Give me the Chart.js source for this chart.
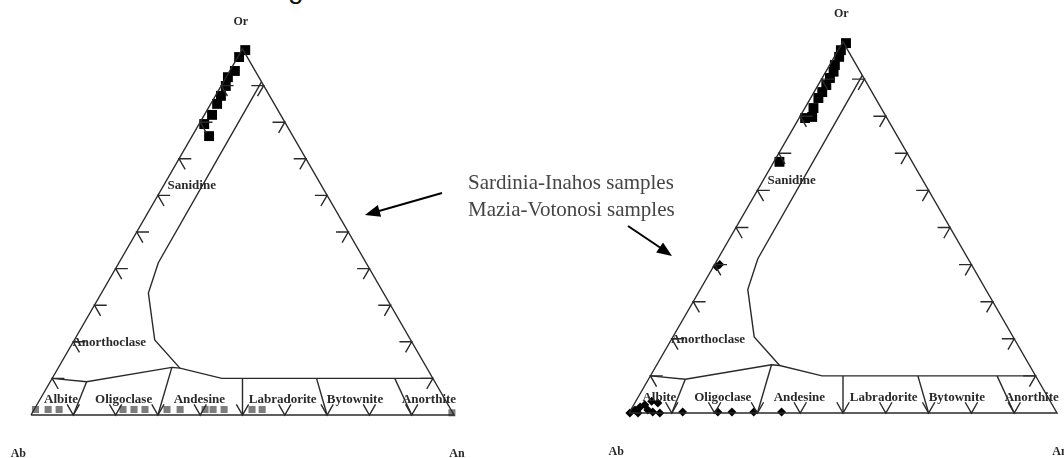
<!DOCTYPE html>
<html>
<head>
<meta charset="utf-8">
<script src="https://cdn.jsdelivr.net/npm/chart.js@4.4.1/dist/chart.umd.min.js"></script>
<style>
  html, body { margin: 0; padding: 0; background: #fff; }
  body { width: 1064px; height: 458px; position: relative; overflow: hidden; font-family: "Liberation Serif", serif; }
  canvas { position: absolute; top: 0; }
  #left { left: 0; }
  #right { left: 540px; }
  .note { position: absolute; left: 468px; font-size: 21px; line-height: 20px; color: #454545; white-space: nowrap; }
  .frag { position: absolute; left: 288px; top: -25px; font: 28px/28px "Liberation Sans", sans-serif; color: #111; }
  svg { position: absolute; left: 0; top: 0; }
</style>
</head>
<body>
<div class="frag">g</div>
<canvas id="left" width="540" height="458"></canvas>
<canvas id="right" width="524" height="458"></canvas>
<div class="note" style="top:172px">Sardinia-Inahos samples</div>
<div class="note" style="top:199px">Mazia-Votonosi samples</div>
<svg width="1064" height="458">
  <line x1="442" y1="193" x2="379" y2="211" stroke="#000" stroke-width="2"/>
  <polygon points="365,215 381.1,216.7 377.8,205.1" fill="#000"/>
  <line x1="628" y1="226" x2="660" y2="247.5" stroke="#000" stroke-width="2"/>
  <polygon points="672,256 656.2,252.6 663,242.6" fill="#000"/>
</svg>
<script>
// samples as [Or %, An %] (Ab is the rest)
const sardiniaOrRich = [[99.7,0.8],[97.8,0.3],[94,1.2],[92.3,0.4],[89.9,1.1],[87.2,1.3],[85,1.5],[82,1.8],[79.5,1.2],[76.2,4]];
const sardiniaPlag = [[1.5,0.3],[1.5,3.3],[1.5,5.9],[1.5,21],[1.5,23.6],[1.5,26.2],[1.5,31.4],[1.5,34.5],
                      [1.5,40.4],[1.5,42.3],[1.5,44.9],[1.5,51.5],[1.5,53.9],[0.6,99.2]];
const maziaOrRich = [[99.7,0.85],[97.8,0.6],[96,1.1],[93.8,1.2],[92,1.8],[90.3,1.8],[88.4,1.9],[86.5,1.9],
                     [84.9,1.8],[82.2,2],[79.8,2.9],[79.5,1.4],[67.7,1.3]];
const maziaPlag = [[39.4,0.8],[40,1.2],[0,0.2],[0.8,1],[1.6,1.8],[2.2,2.6],[0.8,4],[0.3,5.4],[0,7.2],[0,2.1],
                   [3.2,3.7],[2.7,5.4],[0.3,12.4],[0.3,20.6],[0.3,23.9],[0.3,29],[0.3,35.5]];

// field boundaries, [Or, An]
const outline = [[0,0],[100,0],[0,100],[0,0]];
const sanidineLine = [[91,9],[41.6,9.3],[33.3,11.1],[20.5,19],[12.8,28.8]];
const plagLine = [[10,0],[9.1,8.6],[13,26.8],[12.8,28.8],[10,40.1],[10,90]];
const dividers = [[[9.1,8.6],[0,10]],[[13,26.8],[0,30]],[[10,45],[0,50]],[[10,62.5],[0,70]],[[10,81],[0,90]]];
const tickValues = [10,20,30,40,50,60,70,80,90];

const fieldNames = ['Sanidine','Anorthoclase','Albite','Oligoclase','Andesine','Labradorite','Bytownite','Anorthite'];
const fieldAnchor = [[38,62.7],[18.5,19.7],[7.1,4.2],[21.9,4.2],[39.8,4.2],[59.5,4.2],[76.6,4.2],[94.1,4.2]];
const apexNames = ['Or','Ab','An'];
const apexAnchor = [[49.6,107.5],[-3,-10.6],[100.7,-10.6]];

// ternary -> plot coords (x along Ab-An, y = Or)
function tern(or, an) {
  return { x: an + or / 2, y: or };
}
const gap = { x: null, y: null };

function tickPoints(d) {
  const pts = [];
  tickValues.forEach(k => {
    pts.push(tern(d, k - d), tern(0, k), tern(d, k), gap);
    pts.push(tern(k, d), tern(k, 0), tern(k - d, d), gap);
    pts.push(tern(k, 100 - k - d), tern(k, 100 - k), tern(k - d, 100 - k), gap);
  });
  return pts;
}

function lineSet(pts) {
  return { data: pts, showLine: true, pointRadius: 0, borderColor: '#2a2a2a', borderWidth: 1.4, clip: false, spanGaps: false };
}

const labelPlugin = {
  id: 'ternLabels',
  afterDatasetsDraw(chart) {
    const { ctx, scales: { x, y } } = chart;
    ctx.save();
    ctx.fillStyle = '#2a2a2a';
    ctx.textAlign = 'center';
    ctx.textBaseline = 'middle';
    ctx.font = 'bold 13px "Liberation Serif"';
    fieldNames.forEach((n, i) => {
      ctx.fillText(n, x.getPixelForValue(fieldAnchor[i][0]), y.getPixelForValue(fieldAnchor[i][1]));
    });
    ctx.font = 'bold 12px "Liberation Serif"';
    apexNames.forEach((n, i) => {
      ctx.fillText(n, x.getPixelForValue(apexAnchor[i][0]), y.getPixelForValue(apexAnchor[i][1]));
    });
    ctx.restore();
  }
};

function makeChart(id, padding, samples) {
  const datasets = [
    lineSet(outline.map(p => tern(...p))),
    lineSet(sanidineLine.map(p => tern(...p))),
    lineSet(plagLine.map(p => tern(...p))),
    ...dividers.map(seg => lineSet(seg.map(p => tern(...p)))),
    lineSet(tickPoints(2.9)),
    ...samples.map(s => ({
      data: s.values.map(p => tern(...p)),
      pointStyle: s.style,
      pointRadius: s.radius,
      backgroundColor: s.color,
      borderColor: s.color,
      borderWidth: 0,
      clip: false
    }))
  ];
  return new Chart(document.getElementById(id), {
    type: 'scatter',
    data: { datasets },
    options: {
      responsive: false,
      animation: false,
      devicePixelRatio: 1,
      layout: { padding },
      plugins: { legend: { display: false }, tooltip: { enabled: false } },
      scales: {
        x: { type: 'linear', min: 0, max: 100, display: false },
        y: { type: 'linear', min: 0, max: 100, display: false }
      }
    },
    plugins: [labelPlugin]
  });
}

makeChart('left', { left: 31, right: 86, top: 49, bottom: 43 }, [
  { values: sardiniaPlag, style: 'rect', radius: 5, color: '#7d7d7d' },
  { values: sardiniaOrRich, style: 'rect', radius: 7, color: '#000' }
]);
makeChart('right', { left: 89, right: 5, top: 42, bottom: 45 }, [
  { values: maziaOrRich, style: 'rect', radius: 7, color: '#000' },
  { values: maziaPlag, style: 'rectRot', radius: 4.5, color: '#000' }
]);
</script>
</body>
</html>
